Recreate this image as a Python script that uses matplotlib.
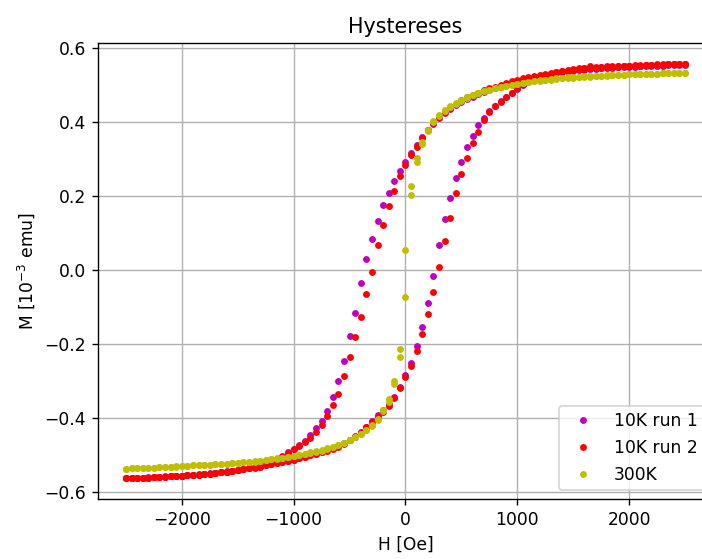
import matplotlib
matplotlib.use("Agg")  # headless
import matplotlib.pyplot as plt

DPI = 123.5

# field sweep in Oe: down branch +2500 -> -2500, up branch the reverse
H_DOWN = [
    2500, 2450, 2400, 2350, 2300, 2250, 2200, 2150, 2100, 2050,
    2000, 1950, 1900, 1850, 1800, 1750, 1700, 1650, 1600, 1550,
    1500, 1450, 1400, 1350, 1300, 1250, 1200, 1150, 1100, 1050,
    1000, 950, 900, 850, 800, 750, 700, 650, 600, 550,
    500, 450, 400, 350, 300, 250, 200, 150, 100, 50,
    0, -50, -100, -150, -200, -250, -300, -350, -400, -450,
    -500, -550, -600, -650, -700, -750, -800, -850, -900, -950,
    -1000, -1050, -1100, -1150, -1200, -1250, -1300, -1350, -1400, -1450,
    -1500, -1550, -1600, -1650, -1700, -1750, -1800, -1850, -1900, -1950,
    -2000, -2050, -2100, -2150, -2200, -2250, -2300, -2350, -2400, -2450,
    -2500,
]
H_UP = H_DOWN[::-1]

# magnetisation in 1e-3 emu
M_10K_RUN1_DOWN = [
    0.556, 0.556, 0.555, 0.555, 0.554, 0.554, 0.553, 0.553, 0.552, 0.551,
    0.551, 0.550, 0.549, 0.548, 0.547, 0.546, 0.545, 0.544, 0.543, 0.541,
    0.540, 0.538, 0.536, 0.534, 0.532, 0.529, 0.526, 0.523, 0.519, 0.515,
    0.511, 0.507, 0.502, 0.497, 0.492, 0.487, 0.482, 0.476, 0.470, 0.463,
    0.455, 0.446, 0.436, 0.425, 0.412, 0.397, 0.380, 0.360, 0.339, 0.318,
    0.294, 0.270, 0.243, 0.209, 0.178, 0.135, 0.086, 0.032, -0.035, -0.114,
    -0.178, -0.246, -0.299, -0.343, -0.379, -0.406, -0.426, -0.446, -0.460, -0.472,
    -0.482, -0.492, -0.501, -0.509, -0.516, -0.521, -0.526, -0.530, -0.533, -0.536,
    -0.539, -0.542, -0.544, -0.546, -0.548, -0.549, -0.551, -0.552, -0.553, -0.554,
    -0.555, -0.556, -0.557, -0.558, -0.558, -0.559, -0.560, -0.560, -0.561, -0.561,
    -0.562,
]
M_10K_RUN1_UP = [
    -0.561, -0.561, -0.560, -0.560, -0.559, -0.558, -0.558, -0.557, -0.556, -0.555,
    -0.555, -0.554, -0.553, -0.551, -0.550, -0.548, -0.547, -0.545, -0.543, -0.541,
    -0.539, -0.537, -0.535, -0.532, -0.530, -0.527, -0.524, -0.521, -0.518, -0.515,
    -0.512, -0.508, -0.504, -0.500, -0.496, -0.491, -0.486, -0.480, -0.474, -0.466,
    -0.457, -0.447, -0.436, -0.422, -0.407, -0.392, -0.378, -0.362, -0.342, -0.314,
    -0.282, -0.250, -0.204, -0.152, -0.089, -0.015, 0.068, 0.139, 0.196, 0.249,
    0.294, 0.333, 0.363, 0.393, 0.413, 0.430, 0.445, 0.457, 0.469, 0.480,
    0.490, 0.500, 0.509, 0.516, 0.521, 0.526, 0.530, 0.534, 0.537, 0.540,
    0.542, 0.544, 0.546, 0.547, 0.548, 0.549, 0.550, 0.551, 0.552, 0.553,
    0.553, 0.554, 0.554, 0.555, 0.555, 0.556, 0.556, 0.557, 0.557, 0.558,
    0.558,
]

M_10K_RUN2_DOWN = [
    0.558, 0.558, 0.557, 0.557, 0.556, 0.556, 0.555, 0.555, 0.554, 0.553,
    0.553, 0.552, 0.551, 0.550, 0.549, 0.548, 0.547, 0.546, 0.545, 0.544,
    0.542, 0.540, 0.539, 0.537, 0.535, 0.532, 0.529, 0.526, 0.523, 0.519,
    0.515, 0.511, 0.506, 0.502, 0.497, 0.492, 0.487, 0.481, 0.475, 0.468,
    0.460, 0.450, 0.440, 0.428, 0.415, 0.399, 0.380, 0.358, 0.335, 0.312,
    0.285, 0.254, 0.216, 0.173, 0.123, 0.068, -0.005, -0.065, -0.125, -0.179,
    -0.235, -0.286, -0.333, -0.363, -0.393, -0.417, -0.436, -0.452, -0.464, -0.475,
    -0.484, -0.494, -0.503, -0.511, -0.517, -0.522, -0.526, -0.530, -0.533, -0.536,
    -0.539, -0.542, -0.544, -0.546, -0.548, -0.549, -0.551, -0.552, -0.553, -0.554,
    -0.555, -0.556, -0.557, -0.558, -0.558, -0.559, -0.560, -0.560, -0.561, -0.561,
    -0.562,
]
M_10K_RUN2_UP = [
    -0.562, -0.561, -0.561, -0.560, -0.560, -0.559, -0.558, -0.558, -0.557, -0.556,
    -0.555, -0.554, -0.553, -0.552, -0.550, -0.549, -0.547, -0.546, -0.544, -0.542,
    -0.540, -0.538, -0.535, -0.533, -0.530, -0.527, -0.524, -0.521, -0.518, -0.515,
    -0.512, -0.508, -0.504, -0.500, -0.496, -0.492, -0.488, -0.482, -0.476, -0.468,
    -0.459, -0.450, -0.439, -0.424, -0.410, -0.396, -0.383, -0.367, -0.346, -0.318,
    -0.289, -0.259, -0.219, -0.172, -0.118, -0.058, 0.009, 0.079, 0.143, 0.209,
    0.260, 0.303, 0.344, 0.375, 0.408, 0.429, 0.444, 0.456, 0.469, 0.481,
    0.492, 0.503, 0.511, 0.518, 0.523, 0.528, 0.532, 0.536, 0.539, 0.542,
    0.544, 0.546, 0.548, 0.552, 0.550, 0.551, 0.552, 0.553, 0.553, 0.554,
    0.554, 0.555, 0.555, 0.556, 0.556, 0.557, 0.557, 0.558, 0.558, 0.559,
    0.559,
]

M_300K_DOWN = [
    0.534, 0.534, 0.533, 0.533, 0.533, 0.532, 0.532, 0.531, 0.531, 0.530,
    0.530, 0.529, 0.529, 0.528, 0.528, 0.527, 0.526, 0.526, 0.525, 0.524,
    0.523, 0.522, 0.520, 0.519, 0.517, 0.516, 0.514, 0.512, 0.510, 0.507,
    0.505, 0.502, 0.499, 0.496, 0.493, 0.489, 0.485, 0.481, 0.475, 0.469,
    0.462, 0.453, 0.444, 0.433, 0.420, 0.403, 0.379, 0.348, 0.303, 0.227,
    0.054, -0.211, -0.298, -0.347, -0.378, -0.402, -0.418, -0.431, -0.441, -0.450,
    -0.458, -0.466, -0.472, -0.478, -0.483, -0.487, -0.491, -0.494, -0.497, -0.500,
    -0.502, -0.505, -0.507, -0.509, -0.511, -0.513, -0.515, -0.517, -0.518, -0.519,
    -0.520, -0.521, -0.522, -0.523, -0.524, -0.525, -0.526, -0.527, -0.527, -0.528,
    -0.529, -0.529, -0.530, -0.531, -0.532, -0.533, -0.533, -0.534, -0.535, -0.535,
    -0.536,
]
M_300K_UP = [
    -0.536, -0.535, -0.535, -0.534, -0.533, -0.533, -0.532, -0.531, -0.530, -0.530,
    -0.529, -0.528, -0.527, -0.527, -0.526, -0.525, -0.524, -0.523, -0.522, -0.521,
    -0.520, -0.519, -0.517, -0.516, -0.514, -0.512, -0.510, -0.508, -0.506, -0.503,
    -0.501, -0.498, -0.495, -0.492, -0.489, -0.485, -0.481, -0.477, -0.472, -0.466,
    -0.459, -0.451, -0.442, -0.432, -0.420, -0.404, -0.381, -0.356, -0.307, -0.235,
    -0.072, 0.203, 0.292, 0.343, 0.376, 0.401, 0.418, 0.431, 0.442, 0.451,
    0.459, 0.467, 0.473, 0.479, 0.484, 0.488, 0.492, 0.495, 0.498, 0.501,
    0.504, 0.506, 0.509, 0.511, 0.513, 0.515, 0.516, 0.518, 0.519, 0.520,
    0.521, 0.522, 0.523, 0.524, 0.525, 0.526, 0.527, 0.528, 0.528, 0.529,
    0.530, 0.530, 0.531, 0.531, 0.532, 0.532, 0.533, 0.533, 0.533, 0.534,
    0.534,
]

SERIES = [
    ("10K run 1", "m", M_10K_RUN1_DOWN, M_10K_RUN1_UP),
    ("10K run 2", "r", M_10K_RUN2_DOWN, M_10K_RUN2_UP),
    ("300K", "y", M_300K_DOWN, M_300K_UP),
]

fig = plt.figure(figsize=(702 / DPI, 559 / DPI), dpi=DPI)
ax = fig.add_axes([0.1396, 0.1072, 0.876, 0.816])

for label, color, down, up in SERIES:
    ax.plot(H_DOWN + H_UP, down + up, ".", color=color, label=label)

ax.set_title("Hystereses")
ax.set_xlabel("H [Oe]")
ax.set_ylabel(r"M [$10^{-3}$ emu]")
ax.grid(True)
ax.legend(loc="lower right")

fig.savefig("out.png", dpi=DPI)
